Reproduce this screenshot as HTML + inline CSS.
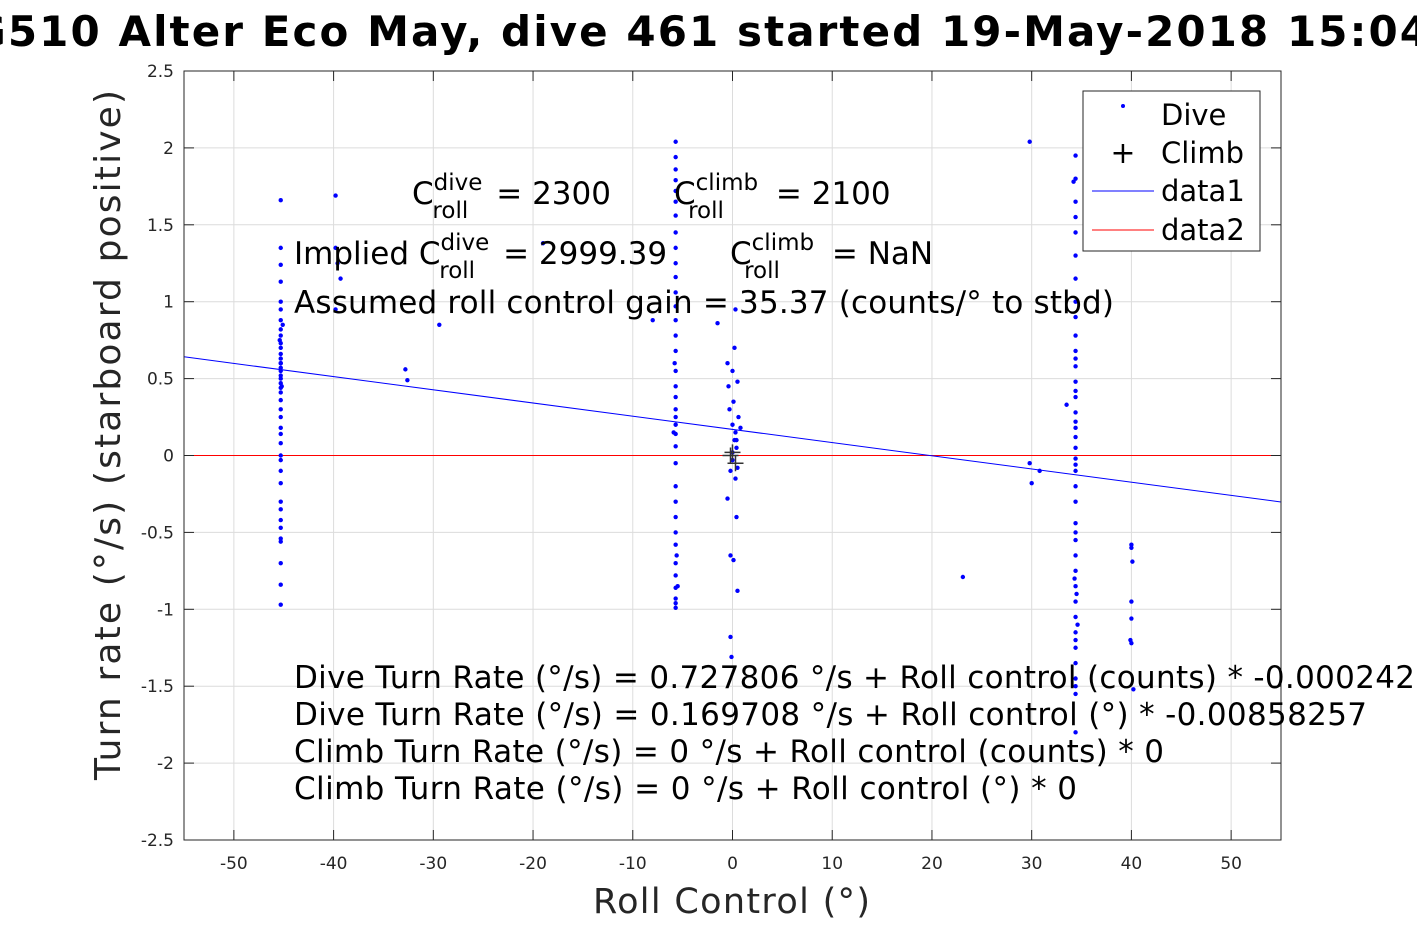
<!DOCTYPE html>
<html><head><meta charset="utf-8"><style>
body{margin:0;background:#fff}
svg{display:block;font-family:"DejaVu Sans","Liberation Sans",sans-serif}
</style></head><body>
<svg id="chart" width="1417" height="945" xmlns="http://www.w3.org/2000/svg">
<rect width="1417" height="945" fill="#fff"/>
<g id="grid"></g>
<g id="lines"></g>
<g id="pts"></g>
<g id="climb"></g>
<rect x="184" y="71" width="1097" height="769" fill="none" stroke="#262626" stroke-width="1"/>
<g id="ticks" font-size="17" fill="#262626"></g>
<text x="-61" y="46" font-size="42" font-weight="bold" fill="#000" textLength="1490" lengthAdjust="spacing">SG510 Alter Eco May, dive 461 started 19-May-2018 15:04</text>
<text x="593" y="913" font-size="35" fill="#262626" textLength="277" lengthAdjust="spacing">Roll Control (°)</text>
<text transform="translate(120,780) rotate(-90)" font-size="36" fill="#262626" textLength="690" lengthAdjust="spacing">Turn rate (°/s) (starboard positive)</text>
<g font-size="31" fill="#000">
<text x="412" y="204">C<tspan font-size="23" dy="-14">dive</tspan><tspan font-size="23" dx="-50" dy="28">roll</tspan><tspan dx="28" dy="-14">= 2300</tspan></text>
<text x="674" y="204">C<tspan font-size="23" dy="-14">climb</tspan><tspan font-size="23" dx="-70" dy="28">roll</tspan><tspan dx="52" dy="-14">= 2100</tspan></text>
<text x="294" y="264">Implied C<tspan font-size="23" dy="-14">dive</tspan><tspan font-size="23" dx="-50" dy="28">roll</tspan><tspan dx="28" dy="-14">= 2999.39</tspan></text>
<text x="730" y="264">C<tspan font-size="23" dy="-14">climb</tspan><tspan font-size="23" dx="-70" dy="28">roll</tspan><tspan dx="52" dy="-14">= NaN</tspan></text>
<text x="294" y="313" textLength="820" lengthAdjust="spacing">Assumed roll control gain = 35.37 (counts/° to stbd)</text>
<text x="294" y="688" textLength="1121" lengthAdjust="spacing">Dive Turn Rate (°/s) = 0.727806 °/s + Roll control (counts) * -0.000242</text>
<text x="294" y="725" textLength="1073" lengthAdjust="spacing">Dive Turn Rate (°/s) = 0.169708 °/s + Roll control (°) * -0.00858257</text>
<text x="294" y="762" textLength="870" lengthAdjust="spacing">Climb Turn Rate (°/s) = 0 °/s + Roll control (counts) * 0</text>
<text x="294" y="799" textLength="783" lengthAdjust="spacing">Climb Turn Rate (°/s) = 0 °/s + Roll control (°) * 0</text>
</g>
<g>
<rect x="1083" y="91" width="177" height="160" fill="#fff" stroke="#262626"/>
<circle cx="1123" cy="106" r="2" fill="#00f"/>
<text x="1161" y="125" font-size="29">Dive</text>
<text x="1123" y="163" font-size="30" text-anchor="middle">+</text>
<text x="1161" y="163" font-size="29">Climb</text>
<line x1="1092" y1="191" x2="1154" y2="191" stroke="#00f"/>
<text x="1161" y="201" font-size="29">data1</text>
<line x1="1092" y1="230" x2="1154" y2="230" stroke="#f00"/>
<text x="1161" y="240" font-size="29">data2</text>
</g>
</svg>
<script>
const xTicks=[-50,-40,-30,-20,-10,0,10,20,30,40,50];
const yTicks=[2.5,2,1.5,1,0.5,0,-0.5,-1,-1.5,-2,-2.5];
const fitIntercept=0.169708;
const fitSlope=-0.00858257;
const diveX=[
-45.3,-45.3,-45.3,-45.3,-45.3,-45.3,-45.3,-45.3,-45.3,-45.3,-45.3,-45.3,-45.3,-45.3,-45.3,-45.3,-45.3,-45.3,-45.3,-45.3,-45.3,-45.3,-45.3,-45.3,-45.3,-45.3,-45.3,-45.3,-45.3,-45.3,-45.3,-45.3,-45.3,-45.3,-45.3,-45.3,-45.3,-45.3,-45.3,-45.3,-45.3,-45.2,-45.4,-45.1,
-39.8,-39.8,-39.6,-39.3,-39.8,-32.8,-32.6,-29.4,-19,-8,-1.5,
-5.7,-5.7,-5.7,-5.7,-5.7,-5.7,-5.7,-5.7,-5.7,-5.7,-5.7,-5.7,-5.7,-5.7,-5.7,-5.7,-5.7,-5.7,-5.7,-5.7,-5.7,-5.7,-5.7,-5.7,-5.7,-5.7,-5.7,-5.7,-5.7,-5.7,-5.7,-5.7,-5.7,-5.7,-5.8,-5.6,-5.9,-5.5,-5.7,-5.7,
0,0.3,-0.5,0.5,0.2,-0.3,0.4,0,0.5,-0.4,0.1,0.6,-0.2,0.3,0,0.2,-0.5,-0.2,0.4,0.1,0.8,0.5,-0.2,0.3,-0.1,0.4,0,
34.4,34.4,34.4,34.4,34.4,34.4,34.4,34.4,34.4,34.4,34.4,34.4,34.4,34.4,34.4,34.4,34.4,34.4,34.4,34.4,34.4,34.4,34.4,34.4,34.4,34.4,34.4,34.4,34.4,34.4,34.4,34.4,34.4,34.4,34.4,34.4,34.4,34.4,34.4,34.3,34.5,34.2,34.6,34.4,34.4,34.4,
29.8,29.8,30,30.8,23.1,33.5,
40,40.1,40,40,39.9,40,40.2,40
];
const diveY=[
1.66,1.35,1.24,1.13,1.0,0.95,0.88,0.82,0.78,0.73,0.7,0.66,0.63,0.6,0.57,0.55,0.52,0.5,0.47,0.44,0.41,0.36,0.3,0.25,0.18,0.14,0.08,0.0,-0.03,-0.1,-0.18,-0.3,-0.35,-0.42,-0.47,-0.54,-0.56,-0.7,-0.84,-0.97,0.6,0.45,0.75,0.85,
1.69,1.35,1.25,1.15,0.95,0.56,0.49,0.85,1.38,0.88,0.86,
2.04,1.94,1.86,1.79,1.65,1.56,1.45,1.35,1.25,1.16,1.06,0.97,0.88,0.78,0.68,0.55,0.45,0.38,0.3,0.25,0.2,0.14,0.06,-0.05,-0.2,-0.3,-0.4,-0.5,-0.58,-0.7,-0.78,-0.86,-0.93,-0.99,0.6,-0.65,0.15,-0.85,1.72,-0.96,
0.2,0.15,0.6,0.48,0.1,0.3,0.05,-0.03,-0.08,0.45,0.35,0.25,-0.1,-0.15,0.55,0.7,-0.28,-0.65,-0.4,-0.68,0.18,-0.88,-1.18,0.95,-1.31,0.1,0.02,
1.95,1.8,1.65,1.55,1.45,1.3,1.15,1.0,0.9,0.78,0.68,0.58,0.48,0.38,0.28,0.18,0.12,0.05,-0.02,-0.1,-0.2,-0.3,-0.44,-0.55,-0.65,-0.75,-0.85,-0.95,-1.05,-1.15,-1.25,-1.35,-1.45,-1.55,-1.8,0.63,0.22,-0.06,-0.5,-0.8,-0.9,1.78,-1.1,-1.5,0.42,-1.2,
2.04,-0.05,-0.18,-0.1,-0.79,0.33,
-0.58,-0.69,-0.95,-1.06,-1.2,-1.22,-1.52,-0.6
];
const climbX=[0,0.3,-0.2];
const climbY=[0.02,-0.05,0.0];
const X0=184,X1=1281,Y0=71,Y1=840,XMIN=-55,XMAX=55,YMIN=-2.5,YMAX=2.5;
function sx(v){return X0+(v-XMIN)/(XMAX-XMIN)*(X1-X0);}
function sy(v){return Y1-(v-YMIN)/(YMAX-YMIN)*(Y1-Y0);}
const NS='http://www.w3.org/2000/svg';
function mk(tag,attrs,parent){const e=document.createElementNS(NS,tag);for(const k in attrs)e.setAttribute(k,attrs[k]);parent.appendChild(e);return e;}
const grid=document.getElementById('grid'),ticks=document.getElementById('ticks');
xTicks.forEach(t=>{const x=sx(t);
const g=mk('line',{x1:x,x2:x,y1:Y0,y2:Y1,stroke:'#dcdcdc'},grid);


mk('line',{x1:x,x2:x,y1:Y1,y2:Y1-10,stroke:'#262626'},ticks);
mk('line',{x1:x,x2:x,y1:Y0,y2:Y0+10,stroke:'#262626'},ticks);
const l=mk('text',{x:x,y:Y1+29,'text-anchor':'middle'},ticks);l.textContent=t;

});
yTicks.forEach(t=>{const y=sy(t);
const g=mk('line',{x1:X0,x2:X1,y1:y,y2:y,stroke:'#dcdcdc'},grid);


mk('line',{x1:X0,x2:X0+10,y1:y,y2:y,stroke:'#262626'},ticks);
mk('line',{x1:X1,x2:X1-10,y1:y,y2:y,stroke:'#262626'},ticks);
const l=mk('text',{x:X0-10,y:y+6,'text-anchor':'end'},ticks);l.textContent=t;

});
const lines=document.getElementById('lines');
const z=mk('line',{x1:X0,x2:X1,y1:sy(0),y2:sy(0),stroke:'#f00'},lines);


const f=mk('line',{x1:X0,x2:X1,y1:sy(fitIntercept+fitSlope*XMIN),y2:sy(fitIntercept+fitSlope*XMAX),stroke:'#00f'},lines);


const pts=document.getElementById('pts');
diveX.forEach((v,i)=>{const c=mk('circle',{cx:sx(v),cy:sy(diveY[i]),r:2.2,fill:'#00f'},pts);

});
const cl=document.getElementById('climb');
climbX.forEach((v,i)=>{const x=sx(v),y=sy(climbY[i]);
const p=mk('path',{d:`M${x-8},${y}H${x+8}M${x},${y-8}V${y+8}`,stroke:'#333','stroke-width':1.5},cl);

});
</script>
</body></html>
